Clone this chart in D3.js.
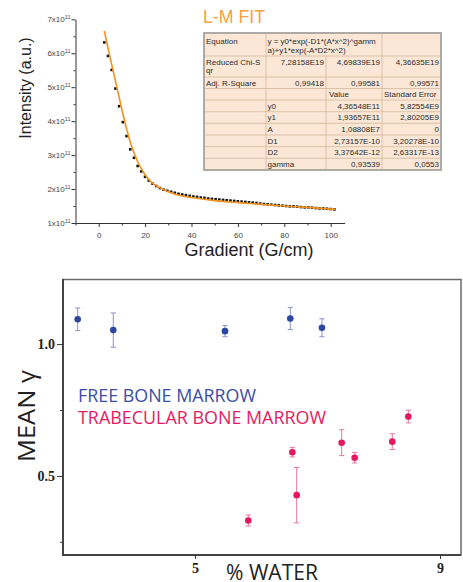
<!DOCTYPE html>
<html lang="en">
<head>
<meta charset="UTF-8">
<title>L-M fit and mean gamma vs water</title>
<script src="https://d3js.org/d3.v7.min.js"></script>
<style>
  body { margin: 0; background: #fff; }
  svg { display: block; }
  .top-axis text { font-family: "Liberation Sans", Arial, sans-serif; font-size: 8px; fill: #444; }
  .top-axis path, .top-axis line { stroke: #333; }
  .tbl text { font-family: "Liberation Sans", Arial, sans-serif; font-size: 8px; fill: #2a2a2a; }
  .bot-axis text { font-family: "Liberation Serif", "Times New Roman", serif; font-weight: bold; font-size: 14px; fill: #222; }
  .bot-axis line { stroke: #333; }
</style>
</head>
<body>
<svg id="chart" width="463" height="582"></svg>
<script>
// ---------- top panel: signal decay (intensity in units of 1e11) ----------
const gradient = [2.4, 4.0, 5.6, 7.2, 8.8, 10.4, 12.0, 13.6, 15.2, 16.8, 18.4, 20.0, 21.6, 23.2, 24.8,
  26.4, 28.0, 29.6, 31.2, 32.8, 34.4, 36.0, 37.6, 39.2, 40.8, 42.4, 44.0, 45.6, 47.2, 48.8, 50.4,
  52.0, 53.6, 55.2, 56.8, 58.4, 60.0, 61.6, 63.2, 64.8, 66.4, 68.0, 69.6, 71.2, 72.8, 74.4, 76.0,
  77.6, 79.2, 80.8, 82.4, 84.0, 85.6, 87.2, 88.8, 90.4, 92.0, 93.6, 95.2, 96.8, 98.4, 100.0, 101.6];
const intensity = [6.32, 5.92, 5.51, 4.96, 4.44, 3.97, 3.56, 3.17, 2.92, 2.68, 2.52, 2.36, 2.25, 2.16, 2.09,
  2.03, 1.98, 1.95, 1.92, 1.89, 1.86, 1.84, 1.82, 1.80, 1.78, 1.77, 1.75, 1.74, 1.72, 1.71, 1.70,
  1.69, 1.68, 1.67, 1.66, 1.65, 1.64, 1.63, 1.62, 1.61, 1.60, 1.59, 1.57, 1.56, 1.55, 1.54, 1.53,
  1.52, 1.51, 1.50, 1.49, 1.49, 1.48, 1.47, 1.46, 1.46, 1.45, 1.44, 1.43, 1.43, 1.42, 1.41, 1.40];
const fitGradient = [2.4, 5, 8, 11, 14, 17, 20, 23, 26, 30, 35, 40, 50, 60, 70, 80, 90, 102];
const fitIntensity = [6.66, 5.85, 4.95, 4.05, 3.30, 2.78, 2.42, 2.18, 2.05, 1.92, 1.81, 1.75, 1.66, 1.60, 1.55, 1.50, 1.46, 1.40];
const yTicksTop = [1, 2, 3, 4, 5, 6, 7];
const yMinorTop = [1.5, 2.5, 3.5, 4.5, 5.5, 6.5];
const xTicksTop = [0, 20, 40, 60, 80, 100];
const xMinorTop = [-10, 10, 30, 50, 70, 90];

// fit report table
const chiSqr = ["7,28158E19", "4,69839E19", "4,36635E19"];
const adjR2 = ["0,99418", "0,99581", "0,99571"];
const fitParams = ["y0", "y1", "A", "D1", "D2", "gamma"];
const fitValues = ["4,36548E11", "1,93657E11", "1,08808E7", "2,73157E-10", "3,37642E-12", "0,93539"];
const fitErrors = ["5,82554E9", "2,80205E9", "0", "3,20278E-10", "2,63317E-13", "0,0553"];

// ---------- bottom panel: mean gamma vs % water ----------
const freeWater = [3.085, 3.666, 5.49, 6.556, 7.073];
const freeGamma = [1.094, 1.053, 1.049, 1.097, 1.062];
const freeErr = [0.043, 0.065, 0.021, 0.042, 0.034];
const trabWater = [5.870, 6.589, 6.660, 7.395, 7.607, 8.221, 8.483];
const trabGamma = [0.331, 0.590, 0.427, 0.626, 0.569, 0.630, 0.725];
const trabErr = [0.021, 0.018, 0.105, 0.049, 0.020, 0.030, 0.024];
const yTicksBot = [0.5, 1.0];
const yMinorBot = [0.25, 0.75];
const xTicksBot = [5, 9];

const svg = d3.select("#chart");

// ===== top chart =====
const xT = d3.scaleLinear().domain([-10, 106]).range([75.5, 344.6]);
const yT = d3.scaleLinear().domain([1, 7]).range([223, 19.3]);

const gyT = svg.append("g").attr("class", "top-axis").attr("transform", "translate(75.5,0)")
  .call(d3.axisLeft(yT).tickValues(yTicksTop).tickSize(4).tickSizeOuter(0).tickPadding(1)
    .tickFormat(d => d + "x10"));
gyT.selectAll(".tick text").append("tspan").attr("dy", -3).attr("font-size", 5.5).text("11");
svg.append("g").attr("class", "top-axis").attr("transform", "translate(75.5,0)")
  .call(d3.axisLeft(yT).tickValues(yMinorTop).tickSize(2).tickFormat(""))
  .select(".domain").remove();

svg.append("g").attr("class", "top-axis").attr("transform", "translate(0,223)")
  .call(d3.axisBottom(xT).tickValues(xTicksTop).tickSize(4).tickSizeOuter(0).tickPadding(5));
svg.append("g").attr("class", "top-axis").attr("transform", "translate(0,223)")
  .call(d3.axisBottom(xT).tickValues(xMinorTop).tickSize(2.5).tickFormat(""))
  .select(".domain").remove();

svg.append("text").attr("transform", "translate(31,88) rotate(-90)")
  .attr("text-anchor", "middle").attr("font-family", "Liberation Sans, Arial, sans-serif")
  .attr("font-size", 16).attr("fill", "#222").text("Intensity (a.u.)");
svg.append("text").attr("x", 249).attr("y", 256)
  .attr("text-anchor", "middle").attr("font-family", "Liberation Sans, Arial, sans-serif")
  .attr("font-size", 18).attr("fill", "#222").text("Gradient (G/cm)");

// data points
svg.append("g").selectAll("rect").data(gradient).join("rect")
  .attr("x", (d) => xT(d) - 1.3)
  .attr("y", (d, i) => yT(intensity[i]) - 1.3)
  .attr("width", 2.6).attr("height", 2.6).attr("fill", "#111");

// fit curve
const fitLine = d3.line().x(d => xT(d[0])).y(d => yT(d[1])).curve(d3.curveMonotoneX);
svg.append("path").datum(fitGradient.map((g, i) => [g, fitIntensity[i]]))
  .attr("d", fitLine).attr("fill", "none").attr("stroke", "#f3921f").attr("stroke-width", 1.6);

svg.append("text").attr("x", 203).attr("y", 23)
  .attr("font-family", "Liberation Sans, Arial, sans-serif").attr("font-size", 19)
  .attr("textLength", 62).attr("lengthAdjust", "spacingAndGlyphs")
  .attr("fill", "#f4a242").text("L-M FIT");

// fit table
const colX = [204, 266, 326, 382, 441];
const rowY = [33, 56, 77, 88.5, 100, 111.7, 123.3, 135, 146.7, 158.3, 170];
const tbl = svg.append("g").attr("class", "tbl");
tbl.append("rect").attr("x", colX[0]).attr("y", rowY[0])
  .attr("width", colX[4] - colX[0]).attr("height", rowY[10] - rowY[0])
  .attr("fill", "#fce7d6");
// horizontal lines
tbl.selectAll("line.h").data(rowY.slice(1, 10)).join("line")
  .attr("x1", colX[0]).attr("x2", colX[4]).attr("y1", d => d).attr("y2", d => d)
  .attr("stroke", "#d3b79c").attr("stroke-width", 0.8);
// vertical lines (col 2|3 is merged in the first row)
[1, 2, 3].forEach(c => {
  tbl.append("line").attr("x1", colX[c]).attr("x2", colX[c])
    .attr("y1", c === 2 ? rowY[1] : rowY[0]).attr("y2", rowY[10])
    .attr("stroke", "#d3b79c").attr("stroke-width", 0.8);
});
tbl.append("rect").attr("x", colX[0]).attr("y", rowY[0])
  .attr("width", colX[4] - colX[0]).attr("height", rowY[10] - rowY[0])
  .attr("fill", "none").attr("stroke", "#a6a29e").attr("stroke-width", 1.8);

function cell(x, y, txt, anchor) {
  tbl.append("text").attr("x", x).attr("y", y).attr("text-anchor", anchor || "start").text(txt);
}
cell(colX[0] + 2, 44, "Equation");
cell(colX[1] + 1.5, 44, "y = y0*exp(-D1*(A*x^2)^gamm");
cell(colX[1] + 1.5, 53, "a)+y1*exp(-A*D2*x^2)");
cell(colX[0] + 2, 64.5, "Reduced Chi-S");
cell(colX[0] + 2, 72.5, "qr");
chiSqr.forEach((v, i) => cell(colX[i + 2] - 2, 64.5, v, "end"));
cell(colX[0] + 2, 85.5, "Adj. R-Square");
adjR2.forEach((v, i) => cell(colX[i + 2] - 2, 85.5, v, "end"));
cell(colX[2] + 3, 97, "Value");
cell(colX[3] + 2, 97, "Standard Error");
fitParams.forEach((p, i) => {
  const y = rowY[i + 4] + 8.7;
  cell(colX[1] + 1.5, y, p);
  cell(colX[3] - 2, y, fitValues[i], "end");
  cell(colX[4] - 2, y, fitErrors[i], "end");
});

// ===== bottom chart =====
const xB = d3.scaleLinear().domain([2.845, 9.343]).range([63, 461]);
const yB = d3.scaleLinear().domain([0.2, 1.245]).range([555, 279.5]);

svg.append("rect").attr("x", 63).attr("y", 279.5).attr("width", 398).attr("height", 275.5)
  .attr("fill", "none").attr("stroke", "#6a6a6a").attr("stroke-width", 1.5);
svg.append("line").attr("x1", 63).attr("x2", 63).attr("y1", 279).attr("y2", 555.5)
  .attr("stroke", "#444").attr("stroke-width", 2);
svg.append("line").attr("x1", 62).attr("x2", 461).attr("y1", 555).attr("y2", 555)
  .attr("stroke", "#444").attr("stroke-width", 2);

const gyB = svg.append("g").attr("class", "bot-axis").attr("transform", "translate(63,0)")
  .call(d3.axisLeft(yB).tickValues(yTicksBot).tickSize(6).tickPadding(2).tickFormat(d3.format(".1f")));
gyB.select(".domain").remove();
svg.append("g").attr("class", "bot-axis").attr("transform", "translate(63,0)")
  .call(d3.axisLeft(yB).tickValues(yMinorBot).tickSize(3).tickFormat(""))
  .select(".domain").remove();
const gxB = svg.append("g").attr("class", "bot-axis").attr("transform", "translate(0,555)")
  .call(d3.axisBottom(xB).tickValues(xTicksBot).tickSize(4).tickPadding(4).tickFormat(d3.format("d")));
gxB.select(".domain").remove();

svg.append("text").attr("transform", "translate(35,416) rotate(-90)")
  .attr("text-anchor", "middle").attr("font-family", "Open Sans, Noto Sans, sans-serif")
  .attr("font-size", 24).attr("fill", "#222")
  .attr("textLength", 92).attr("lengthAdjust", "spacingAndGlyphs").text("MEAN γ");
svg.append("text").attr("x", 272).attr("y", 580)
  .attr("text-anchor", "middle").attr("font-family", "Open Sans, Noto Sans, sans-serif")
  .attr("font-size", 22).attr("fill", "#222")
  .attr("textLength", 92).attr("lengthAdjust", "spacingAndGlyphs").text("% WATER");

svg.append("text").attr("x", 78).attr("y", 402)
  .attr("font-family", "Open Sans, Noto Sans, sans-serif").attr("font-size", 18.5)
  .attr("textLength", 178).attr("lengthAdjust", "spacingAndGlyphs")
  .attr("fill", "#3b4ea3").text("FREE BONE MARROW");
svg.append("text").attr("x", 78).attr("y", 424)
  .attr("font-family", "Open Sans, Noto Sans, sans-serif").attr("font-size", 18.5)
  .attr("textLength", 248).attr("lengthAdjust", "spacingAndGlyphs")
  .attr("fill", "#e31b63").text("TRABECULAR BONE MARROW");

function drawSeries(water, gamma, err, dotColor, barColor) {
  const g = svg.append("g");
  const pts = water.map((w, i) => ({ w, m: gamma[i], e: err[i] }));
  g.selectAll("line.v").data(pts).join("line")
    .attr("x1", d => xB(d.w)).attr("x2", d => xB(d.w))
    .attr("y1", d => yB(d.m - d.e)).attr("y2", d => yB(d.m + d.e))
    .attr("stroke", barColor).attr("stroke-width", 1);
  [-1, 1].forEach(s => {
    g.selectAll("line.c" + s).data(pts).join("line")
      .attr("x1", d => xB(d.w) - 2.6).attr("x2", d => xB(d.w) + 2.6)
      .attr("y1", d => yB(d.m + s * d.e)).attr("y2", d => yB(d.m + s * d.e))
      .attr("stroke", barColor).attr("stroke-width", 1);
  });
  g.selectAll("circle").data(pts).join("circle")
    .attr("cx", d => xB(d.w)).attr("cy", d => yB(d.m)).attr("r", 3.3)
    .attr("fill", dotColor);
}
drawSeries(freeWater, freeGamma, freeErr, "#2d479c", "#8a92c4");
drawSeries(trabWater, trabGamma, trabErr, "#e5175e", "#e27aa0");
</script>
</body>
</html>
